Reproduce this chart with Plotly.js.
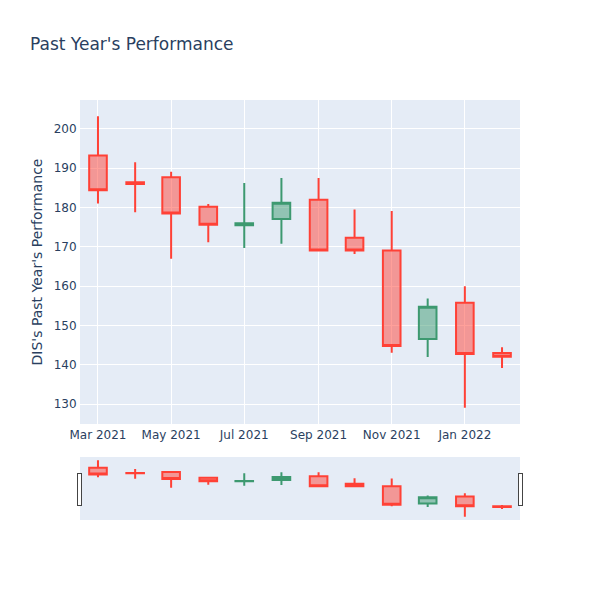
<!DOCTYPE html>
<html>
<head>
<meta charset="utf-8">
<script src="https://cdn.plot.ly/plotly-3.0.1.min.js"></script>
<style>
	body { margin: 0; }
	#plot { width: 600px; height: 600px; }
</style>
</head>
<body>
<div id="plot"></div>
<script>
	// monthly candles
	const dates = ["2021-03-01", "2021-04-01", "2021-05-01", "2021-06-01", "2021-07-01", "2021-08-01",
		"2021-09-01", "2021-10-01", "2021-11-01", "2021-12-01", "2022-01-01", "2022-02-01"];
	const openVals = [193.2, 186.4, 187.7, 180.2, 175.5, 177.1, 182.0, 172.3, 169.1, 146.6, 155.8, 143.0];
	const highVals = [203.2, 191.5, 189.1, 180.9, 186.2, 187.5, 187.5, 179.5, 179.1, 156.9, 160.0, 144.5];
	const lowVals = [181.0, 178.8, 167.0, 171.2, 169.7, 170.8, 169.0, 168.2, 143.1, 142.0, 129.1, 139.2];
	const closeVals = [184.4, 186.0, 178.5, 175.6, 176.0, 181.2, 169.1, 169.1, 144.8, 154.8, 142.8, 142.1];

	const trace = {
		type: "candlestick",
		x: dates,
		open: openVals,
		high: highVals,
		low: lowVals,
		close: closeVals,
		increasing: { line: { color: "#3D9970" } },
		decreasing: { line: { color: "#FF4136" } }
	};

	const layout = {
		width: 600,
		height: 600,
		title: { text: "Past Year's Performance", x: 0.05, font: { size: 17, color: "#2a3f5f" } },
		font: { family: "'DejaVu Sans', verdana, arial, sans-serif", color: "#2a3f5f" },
		paper_bgcolor: "white",
		plot_bgcolor: "#E5ECF6",
		showlegend: false,
		margin: { l: 80, r: 80, t: 100, b: 80 },
		xaxis: {
			type: "date",
			gridcolor: "white",
			linecolor: "white",
			rangeslider: { visible: true }
		},
		yaxis: {
			title: { text: "DIS's Past Year's Performance" },
			gridcolor: "white",
			linecolor: "white",
			zerolinecolor: "white"
		}
	};

	Plotly.newPlot("plot", [trace], layout, { displayModeBar: false });
</script>
</body>
</html>
